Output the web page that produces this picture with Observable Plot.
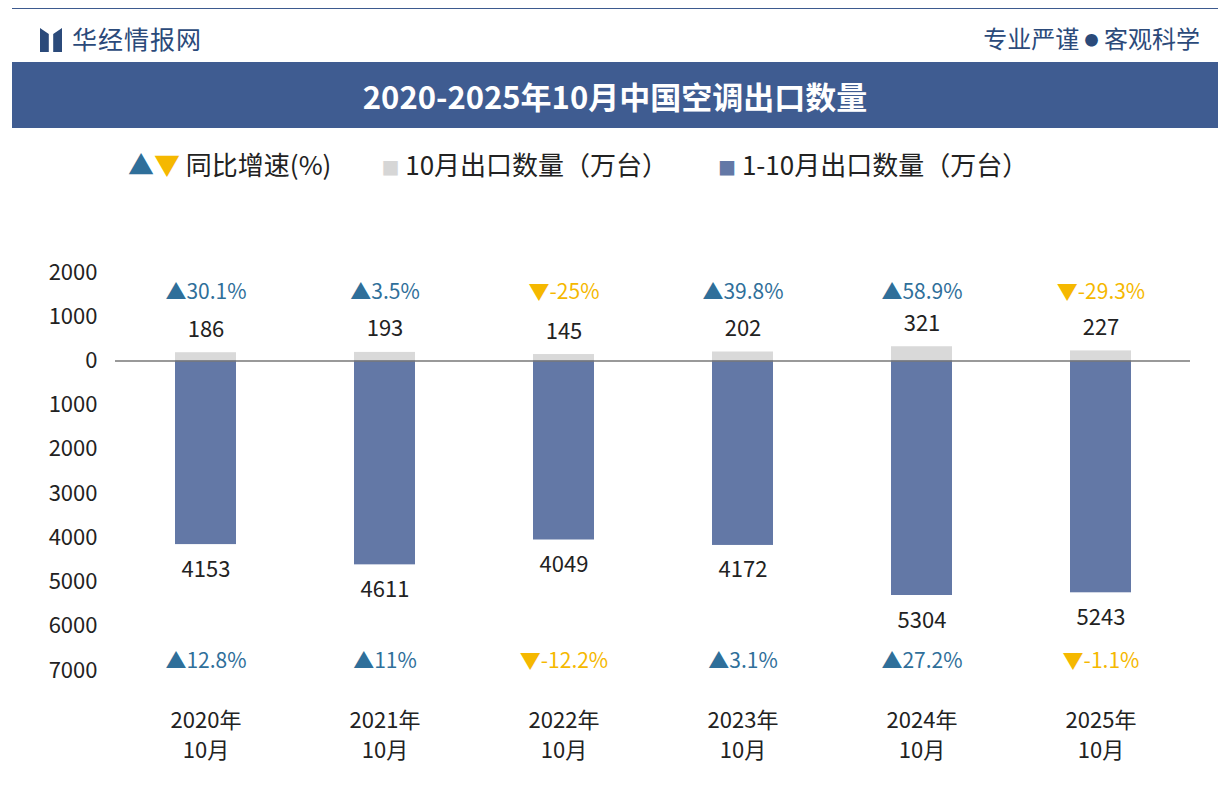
<!DOCTYPE html>
<html><head><meta charset="utf-8">
<script src="https://cdn.jsdelivr.net/npm/d3@7"></script>
<script src="https://cdn.jsdelivr.net/npm/@observablehq/plot@0.6"></script>
<style>
body{margin:0;width:1230px;height:785px;background:#fff;font-family:"Noto Sans CJK SC","Noto Sans",sans-serif;position:relative;overflow:hidden}
#top{position:absolute;left:12px;right:12px;top:8px;height:1px;background:#3d5a8f}
#logo{position:absolute;left:40px;top:20px;font-size:25px;color:#2b4a7a;letter-spacing:1px}
#logo span{display:inline-block;width:22px;height:24px;background:#2b4a7a;margin-right:10px;vertical-align:-3px;clip-path:polygon(0 0,40% 25%,40% 100%,0 100%,0 0,60% 25%,100% 0,100% 100%,60% 100%,60% 25%)}
#slogan{position:absolute;right:30px;top:20px;font-size:24px;color:#2b4a7a}
#title{position:absolute;left:12px;right:12px;top:62px;height:66px;background:#3f5c91;color:#fff;font:bold 31px "Noto Sans CJK SC";display:flex;align-items:center;justify-content:center}
#legend{position:absolute;top:145px;left:128px;font-size:26px;color:#222;white-space:nowrap}
#legend .it{margin-right:50px}
#chart{position:absolute;left:0;top:240px}
</style></head><body>
<div id="top"></div>
<div id="logo"><span></span>华经情报网</div>
<div id="slogan">专业严谨 <span style="font-size:14px;vertical-align:3px">●</span> 客观科学</div>
<div id="title">2020-2025年10月中国空调出口数量</div>
<div id="legend"><span class="it"><span style="color:#2f6f9a">▲</span><span style="color:#f5b800">▼</span> 同比增速(%)</span><span class="it"><span style="color:#d6d6d6;font-size:18px">■</span> 10月出口数量（万台）</span><span class="it"><span style="color:#6378a6;font-size:18px">■</span> 1-10月出口数量（万台）</span></div>
<div id="chart"></div>
<script>
const years=["2020年","2021年","2022年","2023年","2024年","2025年"];
const octQty=[186,193,145,202,321,227];
const octGrowth=[30.1,3.5,-25,39.8,58.9,-29.3];
const cumQty=[4153,4611,4049,4172,5304,5243];
const cumGrowth=[12.8,11,-12.2,3.1,27.2,-1.1];
const yTicks=[2000,1000,0,-1000,-2000,-3000,-4000,-5000,-6000,-7000];

const rows=years.map((y,i)=>({y,oct:octQty[i],og:octGrowth[i],cum:cumQty[i],cg:cumGrowth[i]}));
const gLab=v=>(v>=0?"▲":"▼")+v+"%";
const gCol=v=>v>=0?"#2f6f9a":"#f5b800";
const font="Noto Sans CJK SC";
const chart=Plot.plot({
  width:1230,height:545,marginLeft:115,marginRight:40,marginTop:32,marginBottom:115,
  style:{fontFamily:font,fontSize:"22px",color:"#222"},
  x:{domain:years,paddingInner:0.66,paddingOuter:0.33,axis:null},
  y:{domain:[-7000,2000],ticks:yTicks,tickFormat:d=>String(Math.abs(d)),tickSize:0,tickPadding:18,label:null},
  marks:[
    Plot.ruleX([0],{x:()=>0,frameAnchor:"left",stroke:"#888"}),
    Plot.barY(rows,{x:"y",y:"oct",fill:"#d9d9d9"}),
    Plot.barY(rows,{x:"y",y:d=>-d.cum,fill:"#6378a6"}),
    Plot.ruleY([0],{stroke:"#777",strokeWidth:1.5}),
    Plot.text(rows,{x:"y",y:"oct",text:d=>String(d.oct),dy:-23,fontSize:22,fill:"#222"}),
    Plot.text(rows,{x:"y",y:d=>-d.cum,text:d=>String(d.cum),dy:25,fontSize:22,fill:"#222"}),
    Plot.text(rows,{x:"y",y:1500,text:d=>gLab(d.og),fill:d=>gCol(d.og),fontSize:21,dy:-2}),
    Plot.text(rows,{x:"y",y:-6800,text:d=>gLab(d.cg),fill:d=>gCol(d.cg),fontSize:21}),
    Plot.text(rows,{x:"y",y:-7000,text:"y",dy:50,fontSize:22,fill:"#222"}),
    Plot.text(rows,{x:"y",y:-7000,text:()=>"10月",dy:80,fontSize:22,fill:"#222"})
  ]
});
chart.querySelectorAll("[aria-label='y-axis tick label'] text").forEach(t=>t.setAttribute("fill","#222"));
document.getElementById("chart").append(chart);
</script>
</body></html>
